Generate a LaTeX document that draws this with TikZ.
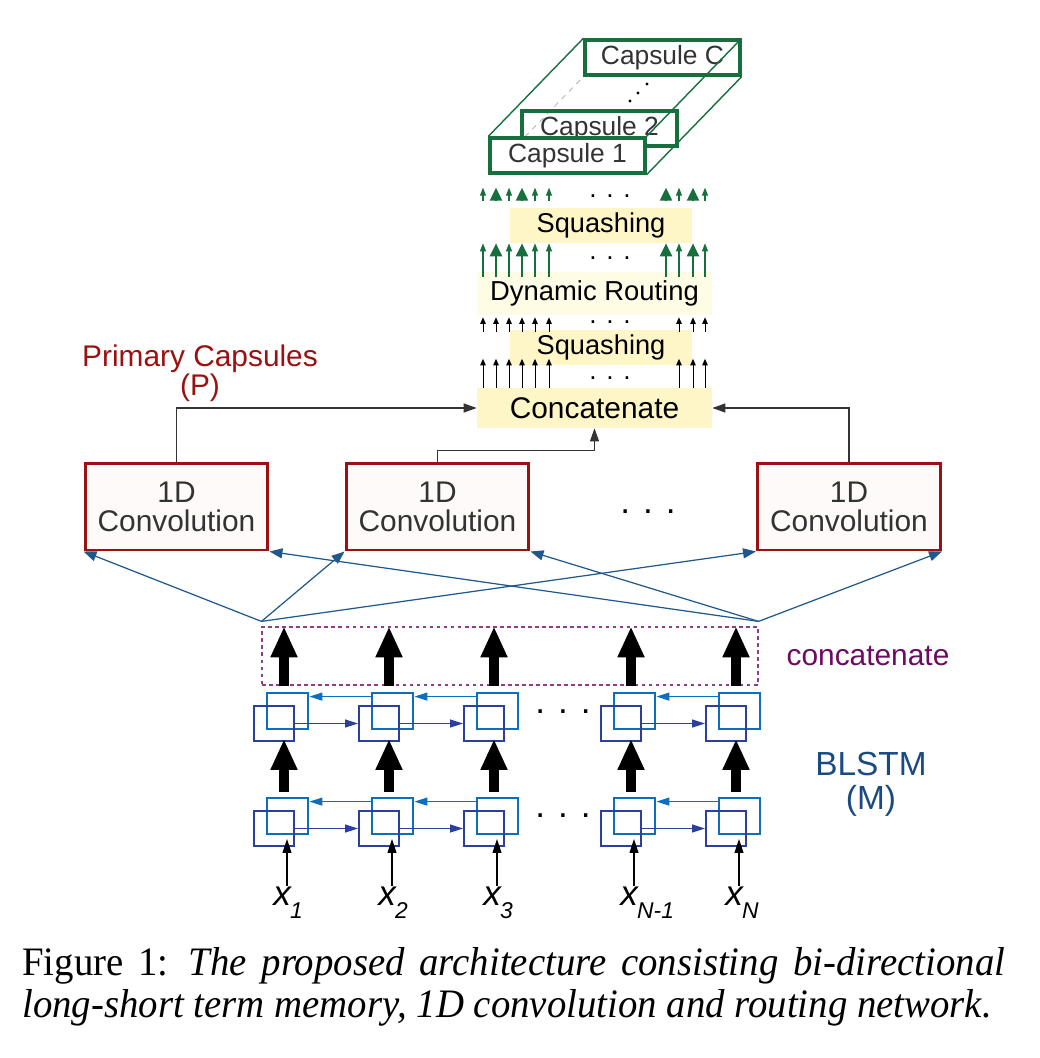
\documentclass[tikz,border=0pt]{standalone}
\usepackage{fontspec}
\setmainfont{Liberation Sans}
\newfontfamily\captionfont[FakeStretch=0.96]{Liberation Serif}
\usetikzlibrary{arrows.meta,backgrounds}
\definecolor{caps green}{RGB}{22,112,62}
\definecolor{squash fill}{RGB}{255,246,200}
\definecolor{routing fill}{RGB}{255,252,230}
\definecolor{conv red}{RGB}{155,17,17}
\definecolor{conv fill}{RGB}{255,250,250}
\definecolor{label gray}{RGB}{51,51,51}
\definecolor{fan blue}{RGB}{31,88,140}
\definecolor{fwd blue}{RGB}{43,63,158}
\definecolor{bwd blue}{RGB}{12,110,190}
\definecolor{cat purple}{RGB}{110,10,100}
\definecolor{box purple}{RGB}{142,60,140}
\definecolor{lstm blue}{RGB}{25,75,130}
\tikzset{capsule/.style={draw=caps green, line width=1.9pt, fill=white, minimum width=3.1cm,
		minimum height=0.7cm, inner sep=0pt, text=label gray, font=\fontsize{15}{15}\selectfont},
	prism/.style={draw=caps green, line width=0.8pt},
	hidden/.style={draw=gray!60, line width=0.5pt, dashed},
	squash/.style={fill=squash fill, minimum width=3.64cm, minimum height=0.7cm, inner sep=0pt,
		font=\fontsize{15.5}{15.5}\selectfont},
	routing/.style={fill=routing fill, minimum width=4.7cm, minimum height=0.86cm, inner sep=0pt,
		font=\fontsize{15.6}{15.6}\selectfont},
	concat/.style={fill=squash fill, minimum width=4.7cm, minimum height=0.8cm, inner sep=0pt,
		font=\fontsize{17}{17}\selectfont},
	thin green/.style={draw=caps green, line width=0.6pt, -{Triangle[width=0.12cm,length=0.16cm]}},
	thick green/.style={draw=caps green, line width=1.2pt, -{Triangle[width=0.24cm,length=0.26cm]}},
	small black/.style={draw=black, line width=0.5pt, -{Triangle[width=0.11cm,length=0.13cm]}},
	feed/.style={draw=label gray, line width=0.6pt, -{Triangle[width=0.18cm,length=0.26cm]}},
	conv/.style={draw=conv red, line width=1.7pt, fill=conv fill, minimum width=3.66cm,
		minimum height=1.74cm, align=center, text=label gray, font=\fontsize{17}{16.5}\selectfont},
	fan/.style={draw=fan blue, line width=0.7pt, -{Triangle[width=0.2cm,length=0.26cm]}},
	concat box/.style={draw=box purple, line width=0.7pt, dash pattern=on 2pt off 2pt,
		minimum width=9.92cm, minimum height=1.16cm, inner sep=0pt},
	back cell/.style={draw=bwd blue, line width=1.6pt, minimum width=0.82cm, minimum height=0.72cm, inner sep=0pt},
	front cell/.style={draw=fwd blue, line width=1.1pt, minimum width=0.8cm, minimum height=0.7cm, inner sep=0pt},
	bwd/.style={draw=bwd blue, line width=0.7pt, -{Triangle[width=0.16cm,length=0.26cm]}},
	fwd/.style={draw=fwd blue, line width=0.7pt, -{Triangle[width=0.16cm,length=0.26cm]}},
	big arrow/.style={line width=0.2cm, -{Triangle[width=0.5cm,length=0.62cm]}},
	input/.style={line width=0.6pt, -{Triangle[width=0.18cm,length=0.28cm]}},
	xlab/.style={anchor=base west, inner sep=0pt, font=\fontsize{20}{20}\selectfont},
	dots/.style={inner sep=0pt, font=\fontsize{20}{20}\selectfont},
	small dots/.style={inner sep=0pt, font=\fontsize{15}{15}\selectfont},
	caption/.style={anchor=north west, align=left, inner sep=0pt, font=\captionfont\fontsize{23}{23.8}\selectfont}}

\begin{document}
\begin{tikzpicture}[x=0.02cm, y=-0.02cm]
		\useasboundingbox (0,0) rectangle (1039,1058);
		% capsules
		\node[capsule, fill=none] (capC) at (662.5,57.5) {Capsule C};
		\node[capsule, fill=none] (cap2) at (599.5,128.5) {Capsule 2};
		\node[capsule] (cap1) at (567.5,155.5) {Capsule 1};
		\draw[prism] (cap1.north west) -- (capC.north west)
		(cap1.north east) -- (capC.north east)
		(cap1.south east) -- (capC.south east);
		\begin{pgfonlayer}{background}
			\draw[hidden] (cap1.south west) -- (capC.south west);
		\end{pgfonlayer}
		\foreach \p in {(630,101),(638,93),(647,84)}
			\fill \p circle[radius=0.9pt];
		
		% routing stack
		\node[squash] (sq1) at (601,225.5) {Squashing};
		\node[routing] (route) at (594.5,293.5) {Dynamic Routing};
		\node[squash] (sq2) at (601,347) {Squashing};
		\node[concat] (concat) at (594.5,408) {Concatenate};
		\foreach \x in {483,509,535,549,679,705} {
			\draw[thin green, shorten <=0.14cm, shorten >=0.26cm] (sq1.north -| \x,0) -- (cap1.south -| \x,0);
			\draw[thin green, shorten <=-0.1cm] (route.north -| \x,0) -- (sq1.south -| \x,0);
		}
		\foreach \x in {496,522,666,693} {
			\draw[thick green, shorten <=0.14cm, shorten >=0.26cm] (sq1.north -| \x,0) -- (cap1.south -| \x,0);
			\draw[thick green, shorten <=-0.1cm] (route.north -| \x,0) -- (sq1.south -| \x,0);
		}
		\foreach \x in {483,496,509,522,535,549,679,693,705} {
			\draw[small black, shorten <=-0.06cm, shorten >=0.04cm] (sq2.north -| \x,0) -- (route.south -| \x,0);
			\draw[small black, shorten >=-0.12cm] (concat.north -| \x,0) -- (sq2.south -| \x,0);
		}
		\node[small dots] (rd1) at (610,196) {. . .};
		\node[small dots] (rd2) at (610,258) {. . .};
		\node[small dots] (rd3) at (610,322) {. . .};
		\node[small dots] (rd4) at (610,378) {. . .};
		
		% convolutions
		\node[conv] (conv1) at (176.5,506.5) {1D\\Convolution};
		\node[conv] (conv2) at (437.5,506.5) {1D\\Convolution};
		\node[conv] (conv3) at (849,506.5) {1D\\Convolution};
		\node[dots] (cvdots) at (648,512) {. . .};
		\node[align=center, text=conv red, font=\fontsize{17}{16.5}\selectfont] (prim) at (200,373) {Primary Capsules\\(P)};
		\draw[feed] (conv1.north) |- (concat.west);
		\draw[feed] (conv3.north) |- (concat.east);
		\draw[feed] (conv2.north) -- ++(0,-11) -| (concat.south);
		
		% blstm
		\node[concat box] (cat) at (510,656) {};
		\node[text=cat purple, font=\fontsize{17}{17}\selectfont] (catlab) at (868,656) {concatenate};
		\node[align=center, text=lstm blue, font=\fontsize{19}{19.3}\selectfont] (blstm) at (871,784) {BLSTM\\(M)};
		\coordinate (L) at ([yshift=0.1cm]cat.north west);
		\coordinate (R) at ([yshift=0.1cm]cat.north east);
		\foreach \c in {conv1,conv2,conv3} {
			\draw[fan] (L) -- (\c.south west);
			\draw[fan] (R) -- (\c.south east);
		}
		\foreach \i/\c/\s in {1/284/1,2/389/2,3/494/3,4/631/N-1,5/736/N} {
			\node[back cell] (bu\i) at (\c+3.5,711) {};
			\node[front cell] (fu\i) at (\c-10,723.5) {};
			\node[back cell] (bl\i) at (\c+3.5,816) {};
			\node[front cell] (fl\i) at (\c-10,828.5) {};
			\node[xlab] (x\i) at (\c-11,905) {\textit{x}\kern-1pt\raisebox{-7.5pt}{\fontsize{13}{13}\selectfont\textit{\s}}};
			\draw[big arrow, shorten <=0.12cm] (bu\i.north -| \c,0) -- (cat.north -| \c,0);
			\draw[big arrow, shorten <=0.1cm, shorten >=-0.06cm] (bl\i.north -| \c,0) -- (fu\i.south -| \c,0);
			\draw[input, shorten >=-0.16cm] (x\i.north -| \c+3,0) -- (fl\i.south -| \c+3,0);
		}
		\foreach \a/\b in {1/2,2/3,4/5} {
			\draw[bwd] ([yshift=-0.1cm]bu\b.north west) -- ([yshift=-0.1cm]bu\a.north east);
			\draw[fwd] (fu\a.east) -- (fu\b.west);
			\draw[bwd] ([yshift=-0.1cm]bl\b.north west) -- ([yshift=-0.1cm]bl\a.north east);
			\draw[fwd] (fl\a.east) -- (fl\b.west);
		}
		\node[dots] (ld1) at (563,712) {. . .};
		\node[dots] (ld2) at (563,816) {. . .};
		
		\node[caption] (fig) at (22,947) {\hbox to 19.66cm{Figure 1:\enspace\textit{The proposed architecture consisting bi-directional}}\\
			\textit{long-short term memory, 1D convolution and routing network.}};
		\end{tikzpicture}
\end{document}
